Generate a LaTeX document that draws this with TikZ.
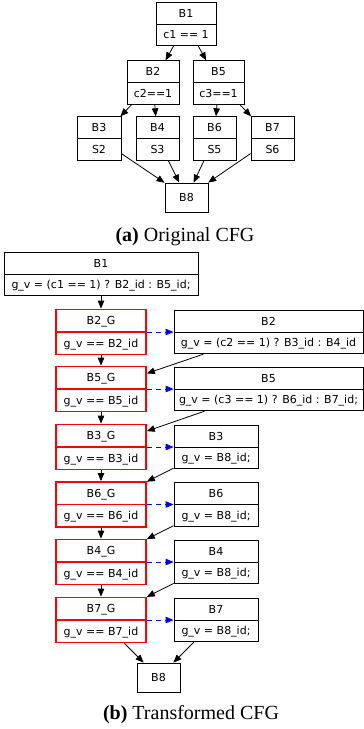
\documentclass[tikz,border=0pt]{standalone}
\usepackage{fontspec}
\setmainfont{Liberation Serif}
\newfontfamily\dvs{DejaVu Sans}
\usetikzlibrary{shapes.multipart,arrows.meta}
\newcommand\stx{\rule[-6.5pt]{0pt}{21pt}}
\tikzset{
  x=1pt, y=-1pt,
  box/.style={rectangle split, rectangle split parts=2, draw=black, line width=0.8pt,
    inner ysep=0pt, inner xsep=2pt, font=\dvs\fontsize{11}{13}\selectfont, align=center},
  gbox/.style={box, draw=red, line width=1.6pt, minimum width=90pt},
  single/.style={draw=black, line width=0.8pt, minimum width=43pt, minimum height=29pt,
    inner sep=0pt, font=\dvs\fontsize{11}{13}\selectfont},
  edge/.style={draw=black, line width=0.8pt, -{Triangle[length=8pt,width=6.5pt]}},
  jump/.style={draw=blue, line width=0.8pt, dash pattern=on 5pt off 4pt,
    -{Triangle[length=8pt,width=6.5pt]}},
  captext/.style={inner sep=0pt, anchor=base, font=\fontsize{20}{22}\selectfont}
}
\begin{document}
\begin{tikzpicture}
\useasboundingbox (0,0) rectangle (364,729);
% ---------- (a) original CFG ----------
\node[box, minimum width=60pt] (a1) at (186,24) {\stx B1\nodepart{two}\stx c1 == 1};
\node[box, minimum width=52pt] (a2) at (153,82.5) {\stx B2\nodepart{two}\stx c2==1};
\node[box, minimum width=51pt] (a5) at (218.5,82.5) {\stx B5\nodepart{two}\stx c3==1};
\node[box, minimum width=44pt] (a3) at (99,138.5) {\stx B3\nodepart{two}\stx S2};
\node[box, minimum width=43pt] (a4) at (157.5,138.5) {\stx B4\nodepart{two}\stx S3};
\node[box, minimum width=43pt] (a6) at (214.5,138.5) {\stx B6\nodepart{two}\stx S5};
\node[box, minimum width=43pt] (a7) at (272.5,138.5) {\stx B7\nodepart{two}\stx S6};
\node[single] (a8) at (186.5,197.5) {B8};
\draw[edge] (a1) -- (a2);
\draw[edge] (a1) -- (a5);
\draw[edge] (a2) -- (a3);
\draw[edge] (a2) -- (a4);
\draw[edge] (a5) -- (a6);
\draw[edge] (a5) -- (a7);
\draw[edge] (a3) -- (a8);
\draw[edge] (a4) -- (a8);
\draw[edge] (a6) -- (a8);
\draw[edge] (a7) -- (a8);
\node[captext] (capa) at (185,241) {\textbf{(a)} Original CFG};
% ---------- (b) transformed CFG ----------
\node[box, minimum width=194pt] (c1) at (101,274) {\stx B1\nodepart{two}\stx g\_v = (c1 == 1) ? B2\_id : B5\_id;};
\node[gbox] (g2) at (101,332) {\stx B2\_G\nodepart{two}\stx g\_v == B2\_id};
\node[box, minimum width=189pt] (r2) at (268.5,332) {\stx B2\nodepart{two}\stx g\_v = (c2 == 1) ? B3\_id : B4\_id};
\node[gbox] (g5) at (101,389) {\stx B5\_G\nodepart{two}\stx g\_v == B5\_id};
\node[box, minimum width=189pt] (r5) at (268.5,389) {\stx B5\nodepart{two}\stx g\_v = (c3 == 1) ? B6\_id : B7\_id;};
\node[gbox] (g3) at (101,447) {\stx B3\_G\nodepart{two}\stx g\_v == B3\_id};
\node[box, minimum width=84pt] (r3) at (216,447) {\stx B3\nodepart{two}\stx g\_v = B8\_id;};
\node[gbox] (g6) at (101,504.5) {\stx B6\_G\nodepart{two}\stx g\_v == B6\_id};
\node[box, minimum width=84pt] (r6) at (216,504.5) {\stx B6\nodepart{two}\stx g\_v = B8\_id;};
\node[gbox] (g4) at (101,562) {\stx B4\_G\nodepart{two}\stx g\_v == B4\_id};
\node[box, minimum width=84pt] (r4) at (216,562) {\stx B4\nodepart{two}\stx g\_v = B8\_id;};
\node[gbox] (g7) at (101,620) {\stx B7\_G\nodepart{two}\stx g\_v == B7\_id};
\node[box, minimum width=84pt] (r7) at (216,620) {\stx B7\nodepart{two}\stx g\_v = B8\_id;};
\node[single] (b8) at (158.5,677.5) {B8};
\draw[edge] (c1) -- (g2);
\draw[edge] (g2) -- (g5);
\draw[edge] (r2) -- (g5);
\draw[edge] (g5) -- (g3);
\draw[edge] (r5) -- (g3);
\draw[edge] (g3) -- (g6);
\draw[edge] (r3) -- (g6);
\draw[edge] (g6) -- (g4);
\draw[edge] (r6) -- (g4);
\draw[edge] (g4) -- (g7);
\draw[edge] (r4) -- (g7);
\draw[edge] (g7) -- (b8);
\draw[edge] (r7) -- (b8);
\foreach \i in {2,5,3,6,4,7}
  \draw[jump] (g\i.text split east) -- (r\i.text split west);
\node[captext] (capb) at (191,719) {\textbf{(b)} Transformed CFG};
\end{tikzpicture}
\end{document}
